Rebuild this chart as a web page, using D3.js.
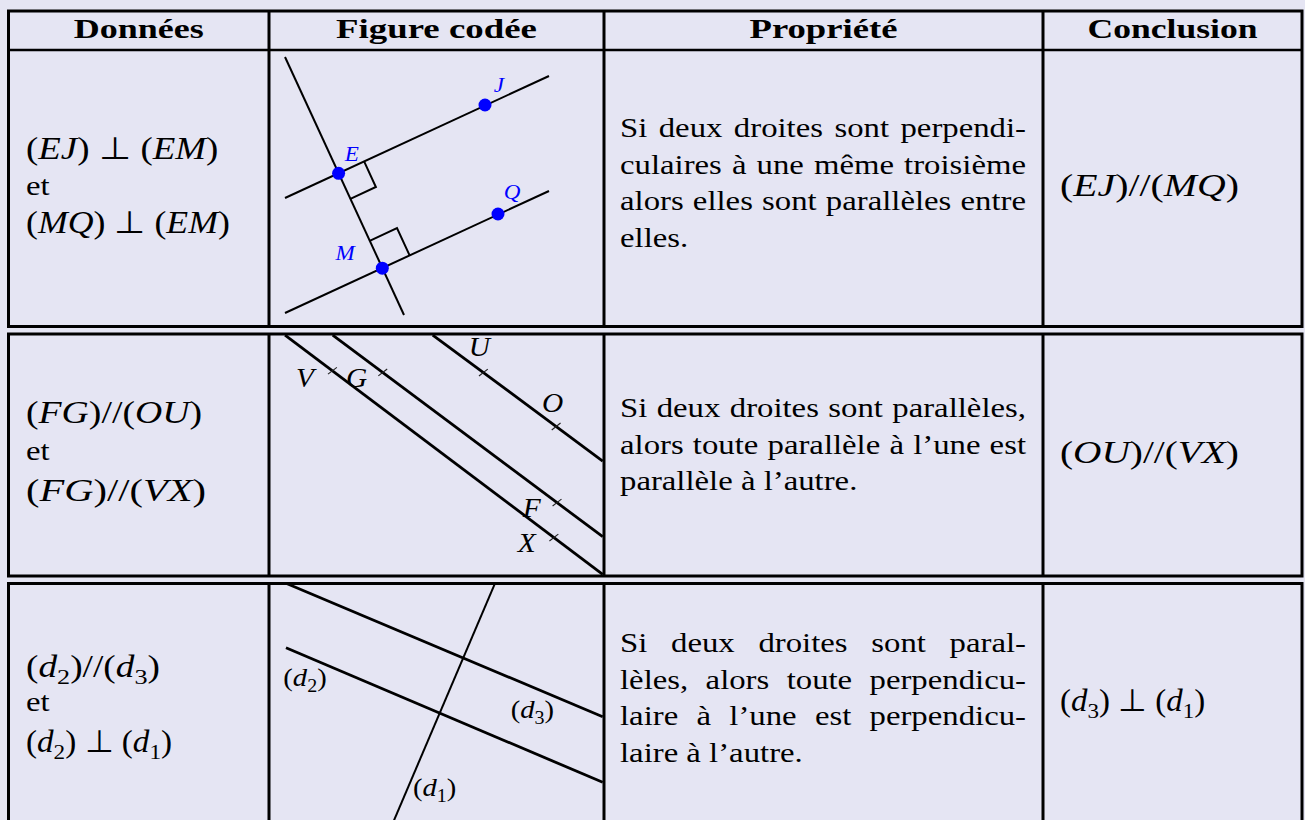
<!DOCTYPE html>
<html><head><meta charset="utf-8">
<script src="https://cdn.jsdelivr.net/npm/d3@7"></script>
<style>html,body{margin:0;padding:0;background:#e5e5f3;} svg{display:block}</style>
</head><body><svg id="c" width="1305" height="820"></svg>
<script>
// ---------- DATA ----------
const headers = ["Données", "Figure codée", "Propriété", "Conclusion"];
const donnees = [
  ["(EJ) ⊥ (EM)", "et", "(MQ) ⊥ (EM)"],
  ["(FG)//(OU)", "et", "(FG)//(VX)"],
  ["(d_2)//(d_3)", "et", "(d_2) ⊥ (d_1)"]
];
const proprietes = [
  ["Si deux droites sont perpendi-", "culaires à une même troisième", "alors elles sont parallèles entre", "elles."],
  ["Si deux droites sont parallèles,", "alors toute parallèle à l’une est", "parallèle à l’autre."],
  ["Si deux droites sont paral-", "lèles, alors toute perpendicu-", "laire à l’une est perpendicu-", "laire à l’autre."]
];
const conclusions = ["(EJ)//(MQ)", "(OU)//(VX)", "(d_3) ⊥ (d_1)"];

// figure 1 (figure units)
const fig1Lines = [
  [[0.478, 0.209], [4.030, 7.910]],
  [[0.478, 4.418], [8.358, 0.776]],
  [[0.478, 7.851], [8.358, 4.209]]
];
const fig1Points = [
  {name: "E", p: [2.078, 3.681], label: [2.472, 3.104]},
  {name: "J", p: [6.448, 1.642], label: [6.860, 1.015]},
  {name: "Q", p: [6.836, 4.896], label: [7.254, 4.230]},
  {name: "M", p: [3.382, 6.513], label: [2.269, 6.051]}
];
const fig1RightAngles = [["E", "J", "M", 0.84], ["M", "Q", "E", 0.90]];

// figure 2
const fig2Lines = [
  [[0.478, 0.060], [9.961, 7.203]],
  [[1.901, 0.060], [9.961, 6.081]],
  [[4.887, 0.060], [9.961, 3.821]]
];
const fig2Marks = [
  {name: "V", line: 0, p: [1.872, 1.155], label: [1.075, 1.313]},
  {name: "G", line: 1, p: [3.412, 1.155], label: [2.618, 1.313]},
  {name: "U", line: 2, p: [6.418, 1.155], label: [6.278, 0.379]},
  {name: "O", line: 2, p: [8.567, 2.797], label: [8.469, 2.051]},
  {name: "F", line: 1, p: [8.618, 5.036], label: [7.842, 5.185]},
  {name: "X", line: 0, p: [8.487, 6.128], label: [7.693, 6.248]}
];

// figure 3
const fig3Lines = [
  {pts: [[0.507, 0.009], [9.961, 3.991]], w: 2.8},
  {pts: [[0.507, 1.931], [9.961, 5.949]], w: 2.8},
  {pts: [[6.746, 0.009], [3.610, 7.370]], w: 2.0}
];
const fig3Labels = [
  {t: "(d_2)", p: [1.075, 2.836]},
  {t: "(d_3)", p: [7.863, 3.791]},
  {t: "(d_1)", p: [4.946, 6.119]}
];

// ---------- LAYOUT ----------
const BG = "#e5e5f3";
const FONT = "'Liberation Serif', 'Times New Roman', serif";
const FS = 28, K = 1.17, LINE = 36.7, MFS = 31;
const colX = [8.5, 269, 604, 1043, 1302];
const blocks = [{top: 11, bottom: 326.5, header: 50}, {top: 334, bottom: 576}, {top: 583.5, bottom: 850}];
const figTop = [50, 333, 583];
const headerBase = 38, headerW = [130, 201, 148, 170];
const donBase = [[159, 195, 233], [423, 460, 501], [677, 711, 752]];
const donW = [[192, 0, 204], [176, 0, 180], [134, 0, 146]];
const propBase = [137, 417, 652];
const concBase = [196, 463, 711], concW = [179, 179, 145];
const textL = 26, propL = 620, propR = 1026, concL = 1060;

const svg = d3.select("#c");
svg.append("rect").attr("width", 1305).attr("height", 820).attr("fill", BG);

// ---------- TABLE ----------
const tbl = svg.append("g").attr("fill", "none").attr("stroke", "#000");
blocks.forEach(b => {
  tbl.append("rect").attr("x", colX[0]).attr("y", b.top)
    .attr("width", colX[4] - colX[0]).attr("height", b.bottom - b.top).attr("stroke-width", 3);
  colX.slice(1, 4).forEach(x => tbl.append("line").attr("x1", x).attr("x2", x)
    .attr("y1", b.top).attr("y2", b.bottom).attr("stroke-width", 3));
  if (b.header) tbl.append("line").attr("x1", colX[0]).attr("x2", colX[4])
    .attr("y1", b.header).attr("y2", b.header).attr("stroke-width", 2.5);
});

// ---------- TEXT HELPERS ----------
function plain(g, x, y, str, opts = {}) {
  const t = g.append("text").attr("font-family", FONT).attr("font-size", opts.size || FS)
    .attr("font-weight", opts.bold ? "bold" : null).style("white-space", "pre").text(str);
  const w = t.node().getComputedTextLength();
  const s = opts.width ? opts.width / w : (opts.scale || K);
  const x0 = opts.anchor === "middle" ? x - w * s / 2 : x;
  t.attr("transform", `translate(${x0},${y}) scale(${s},1)`);
  return t;
}
function justified(g, x, y, str, right) {
  const words = str.split(" ");
  const nodes = words.map(w => g.append("text").attr("font-family", FONT).attr("font-size", FS).text(w));
  const widths = nodes.map(n => n.node().getComputedTextLength() * K);
  const gap = (right - x - d3.sum(widths)) / (words.length - 1);
  let cx = x;
  nodes.forEach((n, i) => { n.attr("transform", `translate(${cx},${y}) scale(${K},1)`); cx += widths[i] + gap; });
}
function math(g, x, y, str, opts = {}) {
  const size = opts.size || MFS;
  const t = g.append("text").attr("font-family", FONT).attr("font-size", size)
    .attr("fill", opts.fill || "#000").style("white-space", "pre");
  let i = 0, up = false;
  while (i < str.length) {
    const c = str[i];
    if (c === "_") {
      t.append("tspan").attr("font-size", size * 0.7).attr("dy", size * 0.22).text(str[i + 1]);
      up = true; i += 2; continue;
    }
    const ts = t.append("tspan").text(c);
    if (up) { ts.attr("dy", -size * 0.22); up = false; }
    if (/[A-Za-z]/.test(c)) ts.attr("font-style", "italic");
    if (c === "(" || c === ")") ts.attr("font-weight", 300);
    i++;
  }
  const w = t.node().getComputedTextLength();
  const s = opts.width ? opts.width / w : (opts.scale || 1);
  const x0 = opts.anchor === "middle" ? x - w * s / 2 : x;
  t.attr("transform", `translate(${x0},${y}) scale(${s},1)`);
  return t;
}

const txt = svg.append("g");
// headers
headers.forEach((h, i) => plain(txt, (colX[i] + colX[i + 1]) / 2, headerBase, h,
  {bold: true, size: 28, width: headerW[i], anchor: "middle"}));
// données
donnees.forEach((rows, r) => rows.forEach((s, j) => {
  if (s.includes("(")) math(txt, textL, donBase[r][j], s, {width: donW[r][j]});
  else plain(txt, textL, donBase[r][j], s);
}));
// propriétés
proprietes.forEach((lines, r) => lines.forEach((s, j) => {
  const y = propBase[r] + j * LINE;
  if (j < lines.length - 1) justified(txt, propL, y, s, propR);
  else plain(txt, propL, y, s);
}));
// conclusions
conclusions.forEach((s, r) => math(txt, concL, concBase[r], s, {width: concW[r]}));

// ---------- FIGURES ----------
const UNIT = (colX[2] - colX[1]) / 10;
const xs = d3.scaleLinear().domain([0, 10]).range([colX[1], colX[2]]);
const ysFor = top => d3.scaleLinear().domain([0, 1]).range([top, top + UNIT]);
const lineGen = (ys) => d3.line().x(d => xs(d[0])).y(d => ys(d[1]));

// Figure 1
{
  const ys = ysFor(figTop[0]);
  const g = svg.append("g");
  g.selectAll("path.l").data(fig1Lines).join("path").attr("d", lineGen(ys))
    .attr("stroke", "#000").attr("stroke-width", 2).attr("fill", "none");
  const P = Object.fromEntries(fig1Points.map(d => [d.name, [xs(d.p[0]), ys(d.p[1])]]));
  fig1RightAngles.forEach(([a, b, c, size]) => {
    const o = P[a];
    const unit = q => { const dx = q[0] - o[0], dy = q[1] - o[1], L = Math.hypot(dx, dy); return [dx / L, dy / L]; };
    const u = unit(P[b]), v = unit(P[c]), s = size * UNIT;
    const p1 = [o[0] + u[0] * s, o[1] + u[1] * s];
    const p2 = [p1[0] + v[0] * s, p1[1] + v[1] * s];
    const p3 = [o[0] + v[0] * s, o[1] + v[1] * s];
    g.append("path").attr("d", d3.line()([p1, p2, p3])).attr("stroke", "#000")
      .attr("stroke-width", 2).attr("fill", "none");
  });
  g.selectAll("circle").data(fig1Points).join("circle")
    .attr("cx", d => xs(d.p[0])).attr("cy", d => ys(d.p[1])).attr("r", 6.5).attr("fill", "#0000ff");
  fig1Points.forEach(d => math(g, xs(d.label[0]), ys(d.label[1]) + 7.5, d.name,
    {size: 21, fill: "#0000ff", anchor: "middle", scale: 1.1}));
}

// Figure 2
{
  const ys = ysFor(figTop[1]);
  const g = svg.append("g");
  g.selectAll("path").data(fig2Lines).join("path").attr("d", lineGen(ys))
    .attr("stroke", "#000").attr("stroke-width", 2.8).attr("fill", "none");
  fig2Marks.forEach(m => {
    const L = fig2Lines[m.line];
    const a = [xs(L[0][0]), ys(L[0][1])], b = [xs(L[1][0]), ys(L[1][1])];
    const dx = b[0] - a[0], dy = b[1] - a[1], len = Math.hypot(dx, dy);
    const u = [dx / len, dy / len];
    const q = [xs(m.p[0]), ys(m.p[1])];
    const t = (q[0] - a[0]) * u[0] + (q[1] - a[1]) * u[1];
    const c = [a[0] + u[0] * t, a[1] + u[1] * t];
    const n = [u[1] * 0.9 + u[0] * 0.25, -u[0] * 0.9 + u[1] * 0.25];
    const h = 6;
    g.append("line").attr("x1", c[0] - n[0] * h).attr("y1", c[1] - n[1] * h)
      .attr("x2", c[0] + n[0] * h).attr("y2", c[1] + n[1] * h)
      .attr("stroke", "#222").attr("stroke-width", 1.1);
    math(g, xs(m.label[0]), ys(m.label[1]) + 10, m.name, {size: 28, anchor: "middle", scale: 1.05});
  });
}

// Figure 3
{
  const ys = ysFor(figTop[2]);
  const g = svg.append("g");
  g.selectAll("path").data(fig3Lines).join("path").attr("d", d => lineGen(ys)(d.pts))
    .attr("stroke", "#000").attr("stroke-width", d => d.w).attr("fill", "none");
  fig3Labels.forEach(l => math(g, xs(l.p[0]), ys(l.p[1]) + 8, l.t, {size: 26, anchor: "middle", scale: 1.1}));
}
</script>
</body></html>
